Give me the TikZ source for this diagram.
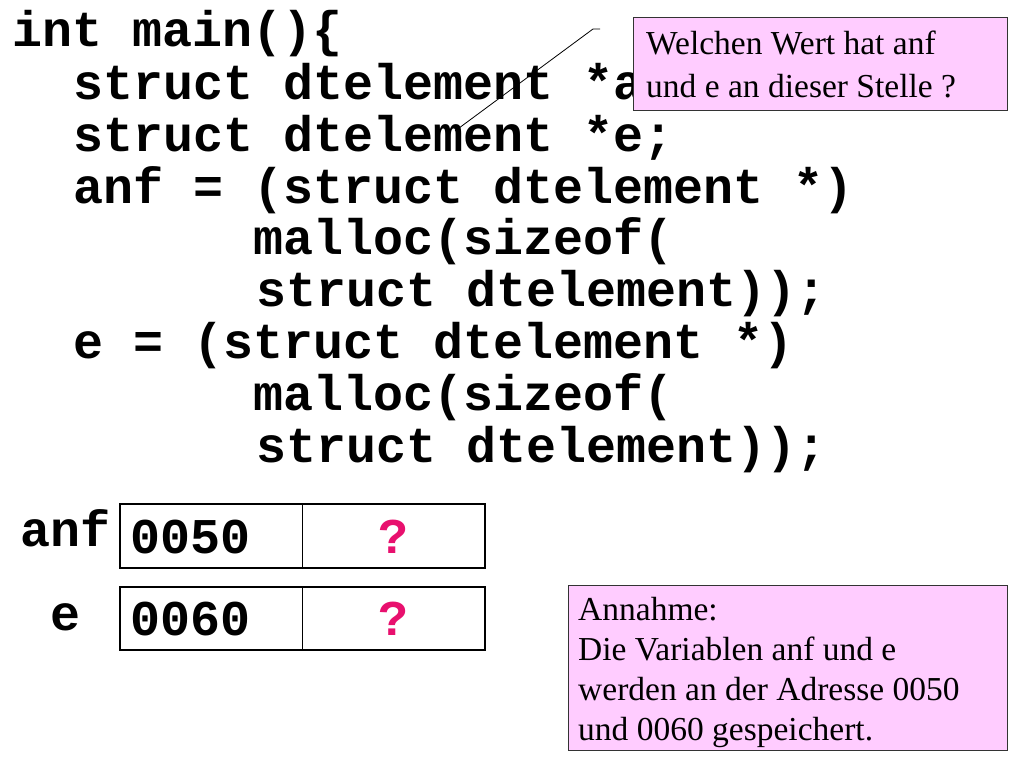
\documentclass[tikz,border=0pt]{standalone}
\usepackage{fontspec}
\setmainfont{Liberation Serif}
\newfontfamily\codefont{Liberation Mono}
\definecolor{pinkbg}{HTML}{FFCCFF}
\definecolor{qmag}{HTML}{E8106E}
\begin{document}
\begin{tikzpicture}[x=1pt,y=-1pt,
  code/.style={anchor=base west,inner sep=0,font=\codefont\bfseries\fontsize{50}{52}\selectfont},
  note/.style={draw=black!80,fill=pinkbg,anchor=north west,inner sep=0},
  cell/.style={draw,line width=2pt},
  ntext/.style={anchor=base west,inner sep=0,font=\fontsize{33.5}{40}\selectfont}]
\useasboundingbox (0,0) rectangle (1024,768);
\foreach \t/\x/\y in {{int main()\{}/12/47, {struct dtelement *anf;}/73/99, {struct dtelement *e;}/73/151, {anf = (struct dtelement *)}/73/203, {malloc(sizeof(}/253/254, {struct dtelement));}/256/306, {e = (struct dtelement *)}/73/358, {malloc(sizeof(}/253/410, {struct dtelement));}/256/462}
  \node[code] at (\x,\y) {\t};
\node[note,minimum width=374pt,minimum height=93pt] (q) at (633,17) {};
\node[ntext] at (646,55) {Welchen Wert hat anf};
\node[ntext] at (646,97) {und e an dieser Stelle ?};
\coordinate (qa) at (600,29);
\coordinate (qb) at (593,29);
\coordinate (qc) at (455,131);
\draw[line width=0.8pt] (qa) -- (qb) -- (qc);
% memory cells
\draw[cell] (120,504) rectangle (485,568);
\draw[line width=1pt] (302,504) -- (302,568);
\draw[cell] (120,587) rectangle (485,650);
\draw[line width=1pt] (302,587) -- (302,650);
\node[code] (anf) at (20,546) {anf};
\node[code] (e) at (50,630) {e};
\node[code] (v1) at (130,553) {0050};
\node[code] (v2) at (130,635) {0060};
\node[code,text=qmag,anchor=base] (q1) at (393,553) {?};
\node[code,text=qmag,anchor=base] (q2) at (393,635) {?};
% Annahme
\node[note,minimum width=439pt,minimum height=165pt] (a) at (568,585) {};
\node[ntext] at (578,620) {Annahme:};
\node[ntext] at (578,660) {Die Variablen anf und e};
\node[ntext] at (578,700) {werden an der Adresse 0050};
\node[ntext] at (578,740) {und 0060 gespeichert.};
\end{tikzpicture}
\end{document}
